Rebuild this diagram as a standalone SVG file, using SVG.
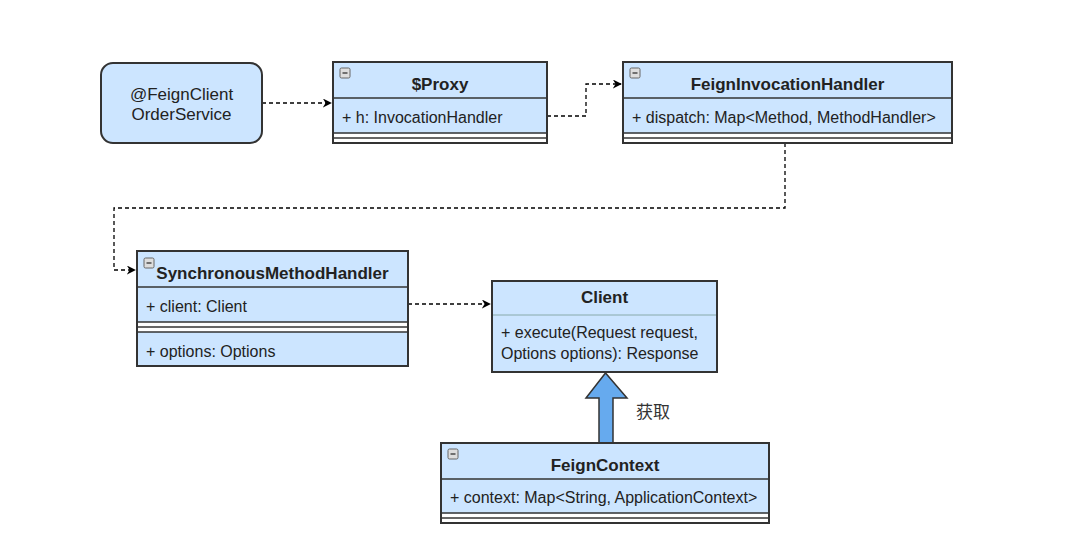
<svg xmlns="http://www.w3.org/2000/svg" width="1073" height="546" viewBox="0 0 1073 546">
<defs>
<style>
.box{fill:#cce5ff;stroke:#333;stroke-width:2}
.sep{stroke:#333;stroke-width:1.5;fill:none}
.lsep{stroke:#8aa;stroke-width:1;fill:none}
.gap{fill:#fff;stroke:none}
.t{font-family:"Liberation Sans",Arial,sans-serif;font-size:16px;fill:#222}
.h{font-family:"Liberation Sans",Arial,sans-serif;font-size:17px;font-weight:bold;fill:#222;text-anchor:middle}
.c{font-family:"Liberation Sans",Arial,sans-serif;font-size:17px;fill:#222;text-anchor:middle}
.cj{font-family:"Liberation Sans","Noto Sans CJK SC",sans-serif;font-size:17px;fill:#333}
.mi{fill:#ddd;stroke:#666;stroke-width:1}
.con{fill:none;stroke:#000;stroke-width:1.3;stroke-dasharray:4 3}
</style>
<marker id="ar" viewBox="0 0 10 10" refX="9" refY="5" markerWidth="9" markerHeight="9" markerUnits="userSpaceOnUse" orient="auto">
<path d="M0,0 L10,5 L0,10 L3,5 Z" fill="#000"/>
</marker>
<g id="minus"><rect class="mi" x="0" y="0" width="10" height="10" rx="1.5"/><line x1="2.5" y1="5" x2="7.5" y2="5" stroke="#333" stroke-width="1.3"/></g>
</defs>
<rect width="1073" height="546" fill="#fff"/>

<g id="connectors">
<path class="con" d="M262,103 H331" marker-end="url(#ar)"/>
<path class="con" d="M547,116 H586 V84 H621" marker-end="url(#ar)"/>
<path class="con" d="M785,143 V208 H114 V270 H135" marker-end="url(#ar)"/>
<path class="con" d="M408,304 H490" marker-end="url(#ar)"/>
<path d="M599,443 V398 H586 L605.5,373 L627,398 H613 V443 Z" fill="#66aaee" stroke="#333" stroke-width="1.5"/>
<text class="cj" x="636" y="418">获取</text>
</g>

<g id="feignclient">
<rect class="box" x="101" y="63" width="161" height="80" rx="12"/>
<text class="c" x="181.5" y="100">@FeignClient</text>
<text class="c" x="181.5" y="120">OrderService</text>
</g>

<g id="proxy">
<rect class="box" x="333" y="62" width="214" height="81"/>
<line class="sep" x1="333" y1="98" x2="547" y2="98"/>
<rect class="gap" x="334" y="133.5" width="212" height="8.5"/>
<line class="sep" x1="333" y1="133" x2="547" y2="133"/>
<line class="sep" x1="333" y1="138" x2="547" y2="138"/>
<use href="#minus" x="340" y="68"/>
<text class="h" x="440" y="90">$Proxy</text>
<text class="t" x="342" y="123">+ h: InvocationHandler</text>
</g>

<g id="fih">
<rect class="box" x="623" y="62" width="329" height="81"/>
<line class="sep" x1="623" y1="98" x2="952" y2="98"/>
<rect class="gap" x="624" y="133.5" width="327" height="8.5"/>
<line class="sep" x1="623" y1="133" x2="952" y2="133"/>
<line class="sep" x1="623" y1="138" x2="952" y2="138"/>
<use href="#minus" x="630" y="68"/>
<text class="h" x="787.5" y="90">FeignInvocationHandler</text>
<text class="t" x="632" y="123">+ dispatch: Map&lt;Method, MethodHandler&gt;</text>
</g>

<g id="smh">
<rect class="box" x="137" y="251" width="271" height="115"/>
<line class="sep" x1="137" y1="287" x2="408" y2="287"/>
<rect class="gap" x="138" y="322" width="269" height="10"/>
<line class="sep" x1="137" y1="322" x2="408" y2="322"/>
<line class="sep" x1="137" y1="327" x2="408" y2="327"/>
<line class="sep" x1="137" y1="332" x2="408" y2="332"/>
<use href="#minus" x="144" y="258"/>
<text class="h" x="272.5" y="279">SynchronousMethodHandler</text>
<text class="t" x="146" y="312">+ client: Client</text>
<text class="t" x="146" y="357">+ options: Options</text>
</g>

<g id="client">
<rect class="box" x="492" y="281" width="225" height="91"/>
<line class="lsep" x1="493" y1="315" x2="716" y2="315"/>
<text class="h" x="604.5" y="303">Client</text>
<text class="t" x="501" y="338">+ execute(Request request,</text>
<text class="t" x="501" y="359">Options options): Response</text>
</g>

<g id="feigncontext">
<rect class="box" x="441" y="443" width="328" height="80"/>
<line class="sep" x1="441" y1="479" x2="769" y2="479"/>
<rect class="gap" x="442" y="513.5" width="326" height="8.5"/>
<line class="sep" x1="441" y1="513" x2="769" y2="513"/>
<line class="sep" x1="441" y1="518" x2="769" y2="518"/>
<use href="#minus" x="448" y="449"/>
<text class="h" x="605" y="471">FeignContext</text>
<text class="t" x="450" y="503">+ context: Map&lt;String, ApplicationContext&gt;</text>
</g>
</svg>
